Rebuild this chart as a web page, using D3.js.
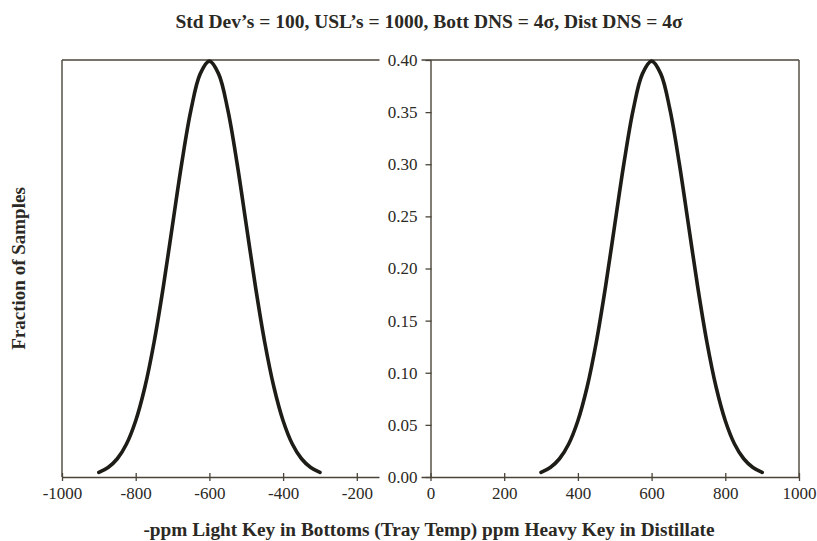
<!DOCTYPE html>
<html>
<head>
<meta charset="utf-8">
<script src="https://cdn.jsdelivr.net/npm/d3@7/dist/d3.min.js"></script>
<style>
  html, body { margin: 0; padding: 0; background: #fff; }
  svg { display: block; }
  text { font-family: "Liberation Serif", "DejaVu Serif", serif; fill: #2b2924; }
</style>
</head>
<body>
<svg id="chart" width="817" height="541"></svg>
<script>
// Impurity offsets (ppm) along each curve; bottoms side is negative
const bottomsPpm = [-900,-875,-850,-825,-800,-775,-750,-725,-700,-675,-650,-625,-600,
                    -575,-550,-525,-500,-475,-450,-425,-400,-375,-350,-325,-300];
const distillatePpm = [300,325,350,375,400,425,450,475,500,525,550,575,600,
                       625,650,675,700,725,750,775,800,825,850,875,900];

// Fraction of samples at each offset
const bottomsFraction = [0.0044,0.0091,0.0175,0.0317,0.0540,0.0863,0.1295,0.1826,0.2420,
                         0.3011,0.3521,0.3867,0.3989,0.3867,0.3521,0.3011,0.2420,0.1826,
                         0.1295,0.0863,0.0540,0.0317,0.0175,0.0091,0.0044];
const distillateFraction = [0.0044,0.0091,0.0175,0.0317,0.0540,0.0863,0.1295,0.1826,0.2420,
                            0.3011,0.3521,0.3867,0.3989,0.3867,0.3521,0.3011,0.2420,0.1826,
                            0.1295,0.0863,0.0540,0.0317,0.0175,0.0091,0.0044];

const xTicks = [-1000,-800,-600,-400,-200,0,200,400,600,800,1000];
const yTicks = [0.00,0.05,0.10,0.15,0.20,0.25,0.30,0.35,0.40];

const titleText = "Std Dev\u2019s = 100, USL\u2019s = 1000, Bott DNS = 4\u03c3, Dist DNS = 4\u03c3";
const xTitle = "-ppm Light Key in Bottoms (Tray Temp) ppm Heavy Key in Distillate";
const yTitle = "Fraction of Samples";

const svg = d3.select("#chart");
const plotLeft = 62, plotRight = 799, plotTop = 60, plotBottom = 477;
const axisColor = "#4a4538";
const textColor = "#2b2924";

const x = d3.scaleLinear().domain([-1000, 1000]).range([plotLeft, plotRight]);
const y = d3.scaleLinear().domain([0, 0.40]).range([plotBottom, plotTop]);

// Frame: left, right, top edges
svg.append("line").attr("x1", plotLeft).attr("x2", plotLeft).attr("y1", plotTop).attr("y2", plotBottom)
  .attr("stroke", axisColor).attr("stroke-width", 1.4);
svg.append("line").attr("x1", plotRight).attr("x2", plotRight).attr("y1", plotTop).attr("y2", plotBottom)
  .attr("stroke", axisColor).attr("stroke-width", 1.4);
svg.append("line").attr("x1", plotLeft).attr("x2", plotRight).attr("y1", plotTop).attr("y2", plotTop)
  .attr("stroke", axisColor).attr("stroke-width", 1.4);

// X axis along the bottom, ticks crossing the line; plain hyphen for negatives
const xAxis = svg.append("g").attr("transform", `translate(0,${plotBottom})`)
  .call(d3.axisBottom(x).tickValues(xTicks).tickSize(4).tickSizeOuter(0)
    .tickFormat(d => String(d)));
xAxis.select(".domain").attr("stroke", axisColor).attr("stroke-width", 1.4);
xAxis.selectAll(".tick line").attr("stroke", axisColor).attr("stroke-width", 1.3)
  .attr("y1", -4).attr("y2", 4);
xAxis.selectAll(".tick text").attr("y", 10).attr("dy", "0.71em")
  .style("font-size", "17px").style("font-family", "Liberation Serif, serif").attr("fill", textColor);

// Central Y axis at zero ppm
const yAxis = svg.append("g").attr("transform", `translate(${x(0)},0)`)
  .call(d3.axisLeft(y).tickValues(yTicks).tickSize(5).tickSizeOuter(0)
    .tickFormat(d3.format(".2f")));
yAxis.select(".domain").attr("stroke", axisColor).attr("stroke-width", 1.4);
yAxis.selectAll(".tick line").attr("stroke", axisColor).attr("stroke-width", 1.3).attr("x2", -5).attr("x1", 1);
// Gaps in the frame behind the end labels
yAxis.selectAll(".tick").filter(d => d === 0 || d === 0.40)
  .insert("rect", "text").attr("x", -51).attr("y", -6).attr("width", 42).attr("height", 12)
  .attr("fill", "#fff");
yAxis.selectAll(".tick text").attr("x", -13)
  .style("font-size", "17px").style("font-family", "Liberation Serif, serif").attr("fill", textColor);

// Distribution curves
const line = d3.line().x(d => x(d[0])).y(d => y(d[1])).curve(d3.curveCatmullRom);
[[bottomsPpm, bottomsFraction], [distillatePpm, distillateFraction]].forEach(([px, fy]) => {
  svg.append("path").datum(d3.zip(px, fy))
    .attr("d", line).attr("fill", "none").attr("stroke", "#1d1c16")
    .attr("stroke-width", 3.6).attr("stroke-linecap", "round").attr("stroke-linejoin", "round");
});

// Titles
svg.append("text").attr("x", 429).attr("y", 28).attr("text-anchor", "middle")
  .style("font-size", "19.5px").style("font-weight", "bold").text(titleText);
svg.append("text").attr("x", 429).attr("y", 536).attr("text-anchor", "middle")
  .style("font-size", "19.3px").style("font-weight", "bold").text(xTitle);
svg.append("text").attr("transform", `translate(25,${(plotTop + plotBottom) / 2}) rotate(-90)`)
  .attr("text-anchor", "middle")
  .style("font-size", "19px").style("font-weight", "bold").text(yTitle);
</script>
</body>
</html>
